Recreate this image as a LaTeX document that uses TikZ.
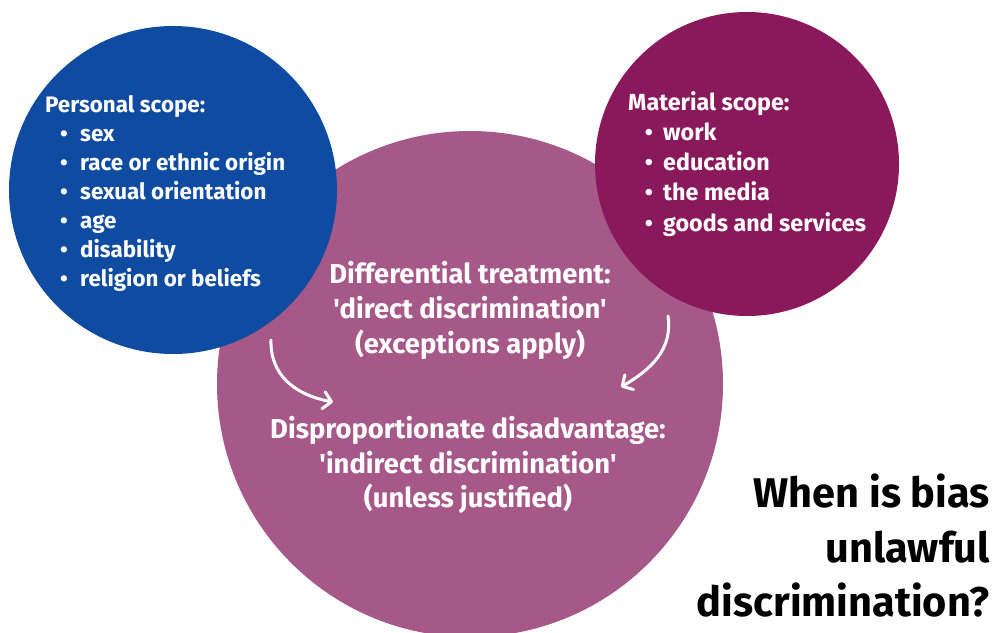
\documentclass[tikz,border=0pt]{standalone}
\usepackage{fontspec}
\setmainfont{Fira Sans}[Ligatures=TeXOff]
\usetikzlibrary{arrows.meta}
\definecolor{blueC}{RGB}{14,75,161}
\definecolor{magC}{RGB}{137,25,91}
\definecolor{mauveC}{RGB}{166,89,137}
\tikzset{
 wtxt/.style={text=white, font=\bfseries\fontsize{22.4}{26}\selectfont, inner sep=0pt, anchor=base west},
 bul/.style={text=white, font=\bfseries\fontsize{22.4}{26}\selectfont, inner sep=0pt, anchor=base},
 rtxt/.style={wtxt, font=\bfseries\fontsize{23.3}{27}\selectfont},
 rbul/.style={bul, font=\bfseries\fontsize{23.3}{27}\selectfont},
 ctxt/.style={text=white, font=\bfseries\fontsize{27.4}{32}\selectfont, inner sep=0pt, anchor=base},
 htxt/.style={text=black, font=\bfseries\fontsize{41.5}{48}\selectfont, inner sep=0pt, anchor=base east},
 disc/.style={circle, inner sep=0pt, draw=none},
 arr/.style={draw=white, line width=3pt, line cap=round, -{Straight Barb[length=8pt,width=17pt,round]}},
}
\begin{document}
\begin{tikzpicture}[x=1pt,y=-1pt]
\fill[white] (0,0) rectangle (996,632);
\path[use as bounding box] (0,0) rectangle (996,632);
\begin{scope}
\clip (0,0) rectangle (996,632);
\node[disc, fill=mauveC, minimum size=506pt] (mid) at (470,384) {};
\node[disc, fill=blueC, minimum size=328pt] (pers) at (173,190) {};
\node[disc, fill=magC, minimum size=304pt] (mat) at (747,164) {};
\end{scope}
% personal scope
\node[wtxt] (ph) at (45,112) {Personal scope:};
\foreach \t [count=\i] in {sex, race or ethnic origin, sexual orientation, age, disability, religion or beliefs}{
  \node[bul] (pb\i) at (64,{112+29*\i}) {\textbullet};
  \node[wtxt] (p\i) at (80,{112+29*\i}) {\t};
}
% material scope
\node[rtxt] (mh) at (628,110) {Material scope:};
\foreach \t [count=\i] in {work, education, the media, goods and services}{
  \node[rbul] (mb\i) at (649,{110+30.3*\i}) {\textbullet};
  \node[rtxt] (m\i) at (663,{110+30.3*\i}) {\t};
}
% centre texts
\node[ctxt] (d1) at (470,283) {Differential treatment:};
\node[ctxt] (d2) at (470,318) {'direct discrimination'};
\node[ctxt] (d3) at (470,353) {(exceptions apply)};
\node[ctxt] (i1) at (468,438) {Disproportionate disadvantage:};
\node[ctxt] (i2) at (468,473) {'indirect discrimination'};
\node[ctxt] (i3) at (468,507) {(unless justified)};
% heading
\node[htxt] (h1) at (990,507) {When is bias};
\node[htxt] (h2) at (990,562) {unlawful};
\node[htxt] (h3) at (990,616) {discrimination?};
% arrows
\coordinate (a1s) at (271,340);
\coordinate (a1e) at (333,402);
\coordinate (a2s) at (668,316);
\coordinate (a2e) at (621,387);
\draw[arr] (a1s) .. controls (270,375) and (295,395) .. (a1e);
\draw[arr] (a2s) .. controls (673,350) and (650,370) .. (a2e);
\end{tikzpicture}
\end{document}
